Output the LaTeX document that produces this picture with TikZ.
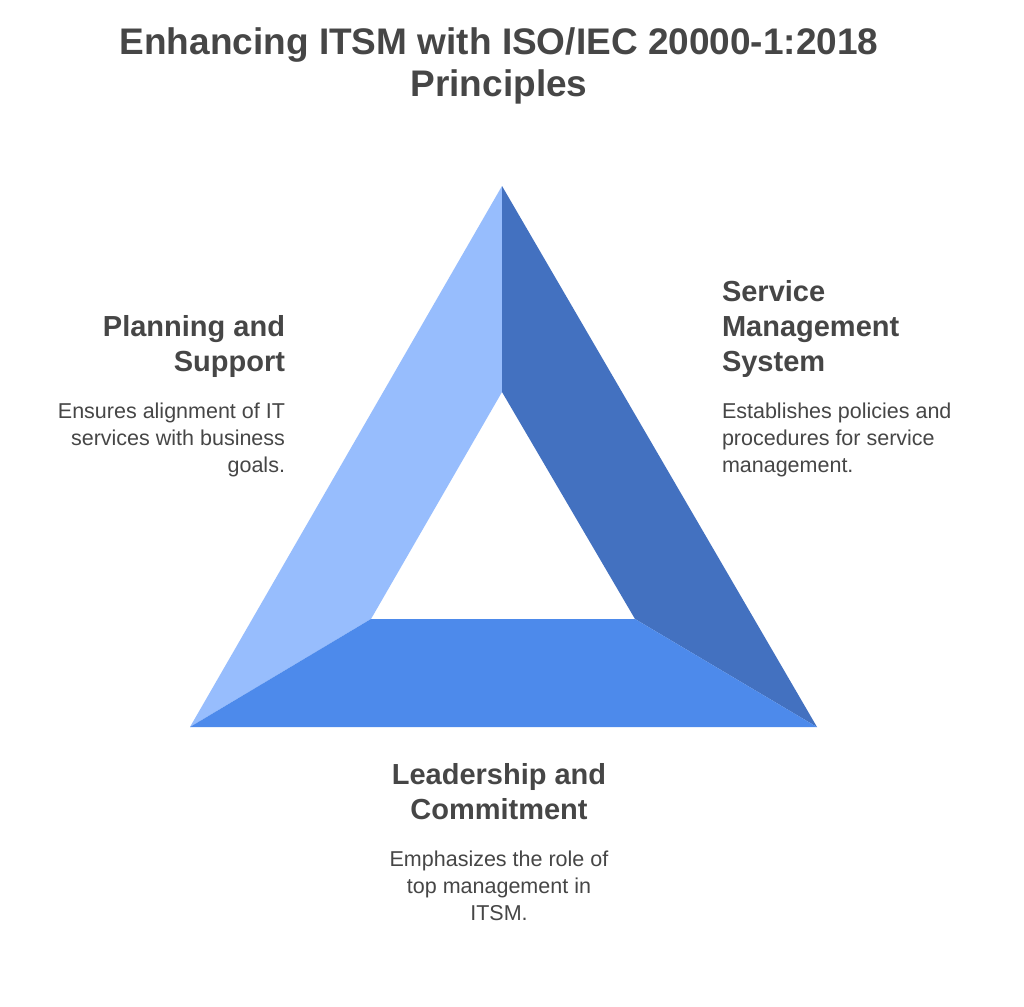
\documentclass[tikz,border=0pt]{standalone}
\usepackage{fontspec}
\setmainfont{Liberation Sans}
\definecolor{txt}{HTML}{464646}
\definecolor{lightb}{HTML}{97BDFD}
\definecolor{darkb}{HTML}{4371C0}
\definecolor{midb}{HTML}{4D8AEB}
\begin{document}
\begin{tikzpicture}[x=1pt,y=-1pt,
  every node/.style={inner sep=0pt,outer sep=0pt,text=txt},
  titlefont/.style={font=\fontsize{37}{42}\bfseries\selectfont},
  headfont/.style={font=\fontsize{29}{35}\bfseries\selectfont},
  descfont/.style={font=\fontsize{21.5}{27}\selectfont}]
\useasboundingbox[fill=white] (0,0) rectangle (1024,1006);
% triangle coordinates
\coordinate (OT) at (502,186);
\coordinate (OL) at (190,727);
\coordinate (OR) at (817,727);
\coordinate (IT) at (502,392);
\coordinate (IL) at (371,619);
\coordinate (IR) at (635,619);
\fill[lightb] (OT) -- (IT) -- (IL) -- (OL) -- cycle;
\fill[darkb] (OT) -- (OR) -- (IR) -- (IT) -- cycle;
\fill[midb] (OL) -- (IL) -- (IR) -- (OR) -- cycle;
% title (anchor base = baseline of last line)
\node[titlefont,align=center,anchor=base] (title) at (499,97) {Enhancing ITSM with ISO/IEC 20000-1:2018\\Principles};
% left
\node[headfont,align=right,anchor=base east] (ps) at (285,371) {Planning and\\Support};
\node[descfont,align=right,anchor=base east] (psd) at (285,472) {Ensures alignment of IT\\services with business\\goals.};
% right
\node[headfont,align=left,anchor=base west] (sms) at (722,371) {Service\\Management\\System};
\node[descfont,align=left,anchor=base west] (smsd) at (722,472) {Establishes policies and\\procedures for service\\management.};
% bottom
\node[headfont,align=center,anchor=base] (lc) at (499,819) {Leadership and\\Commitment};
\node[descfont,align=center,anchor=base] (lcd) at (499,920) {Emphasizes the role of\\top management in\\ITSM.};
\end{tikzpicture}
\end{document}
